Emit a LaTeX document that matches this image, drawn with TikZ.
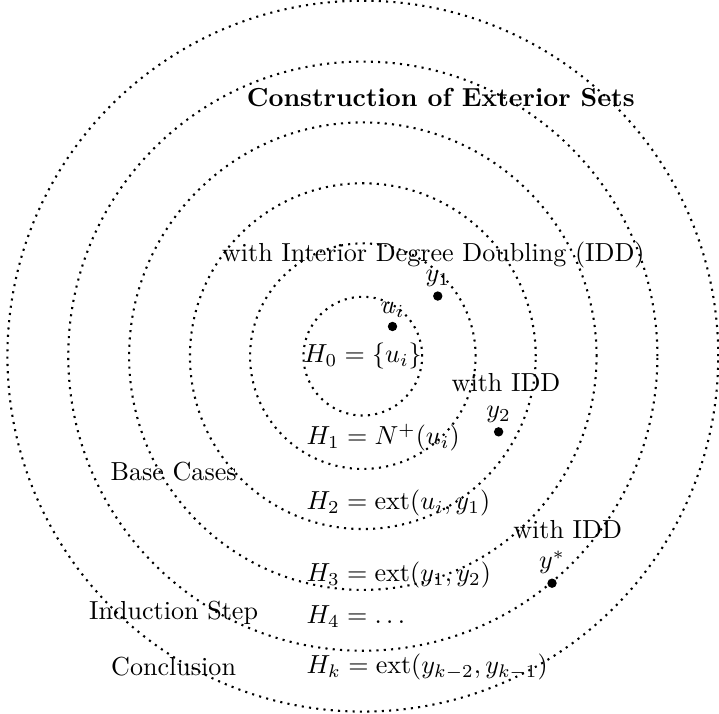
\documentclass[tikz,border=0pt]{standalone}
\begin{document}
\begin{tikzpicture}[line join=round, thick,
		ring/.style={dotted, line cap=butt},
		dot/.style={circle, fill, inner sep=0pt, minimum size=3.6pt},
		tag/.style={inner sep=1pt}]
	\useasboundingbox (-4.89,-4.81) rectangle (4.8,4.8);
	% rings
	\draw[ring] (0,0) circle (0.8);
	\draw[ring] (0,0) circle (1.52);
	\draw[ring] (0,0) circle (2.33);
	\draw[ring] (0,0) circle (3.15);
	\draw[ring] (0,0) circle (3.97);
	\draw[ring] (0,0) circle (4.79);
	% headings
	\node[font=\bfseries] (title) at (1.05,3.49) {Construction of Exterior Sets};
	\node (idd0) at (0.95,1.37) {with Interior Degree Doubling (IDD)};
	\node (idd1) at (1.93,-0.35) {with IDD};
	\node (idd2) at (2.76,-2.34) {with IDD};
	% vertices
	\node[dot, label={[tag]above:$u_i$}] (ui) at (0.40,0.40) {};
	\node[dot, label={[tag]above:$y_1$}] (y1) at (1.01,0.81) {};
	\node[dot, label={[tag]above:$y_2$}] (y2) at (1.83,-1.02) {};
	\node[dot, label={[tag]above:$y^*$}] (ys) at (2.55,-3.06) {};
	% sets
	\node (h0) at (0,0) {$H_0=\{u_i\}$};
	\node[anchor=west] (h1) at (-0.89,-1.10) {$H_1=N^+(u_i)$};
	\node[anchor=west] (h2) at (-0.89,-1.98) {$H_2=\mathrm{ext}(u_i,y_1)$};
	\node[anchor=west] (h3) at (-0.89,-2.95) {$H_3=\mathrm{ext}(y_1,y_2)$};
	\node[anchor=west] (h4) at (-0.89,-3.51) {$H_4=\dots$};
	\node[anchor=west] (hk) at (-0.89,-4.19) {$H_k=\mathrm{ext}(y_{k-2},y_{k-1})$};
	% stages
	\node (base) at (-2.55,-1.56) {Base Cases};
	\node (ind) at (-2.55,-3.46) {Induction Step};
	\node (conc) at (-2.55,-4.19) {Conclusion};
\end{tikzpicture}
\end{document}
